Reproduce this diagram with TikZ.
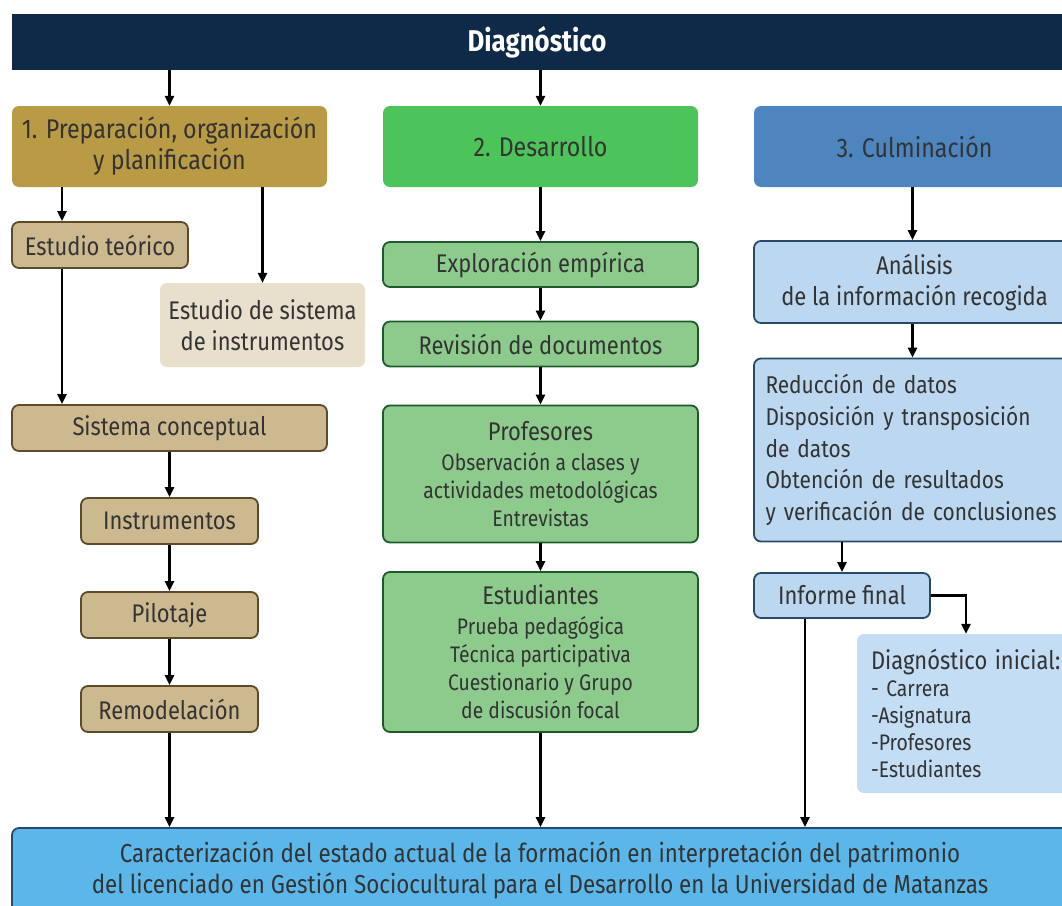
\documentclass[tikz,border=0pt]{standalone}
\usepackage{fontspec}
\setmainfont{Fira Sans}[FakeStretch=0.86]
\usepackage{tikz}
\usetikzlibrary{arrows.meta}

\definecolor{navy}{HTML}{0F2A48}
\definecolor{gold}{HTML}{B99A45}
\definecolor{tan}{HTML}{CDB98F}
\definecolor{tanline}{HTML}{5C4A28}
\definecolor{beige}{HTML}{E8DFCC}
\definecolor{green1}{HTML}{4CC45A}
\definecolor{green2}{HTML}{8DCB8D}
\definecolor{greenline}{HTML}{1E5B2B}
\definecolor{blue1}{HTML}{4D86BF}
\definecolor{blue2}{HTML}{BCD8F1}
\definecolor{blue3}{HTML}{C3DDF4}
\definecolor{blue4}{HTML}{5BB7E9}
\definecolor{blueline}{HTML}{2A4A6A}
\definecolor{txt}{HTML}{333333}

\newcommand{\subtxt}{\fontsize{22.5}{27}\selectfont}

\begin{document}
\begin{tikzpicture}[x=1pt,y=-1pt,
    box/.style={rounded corners=7pt,text=txt,align=center,inner sep=0pt,
        font=\fontsize{25.5}{31}\selectfont},
    phase/.style={box,font=\fontsize{27}{31}\selectfont},
    tanbox/.style={box,fill=tan,draw=tanline,line width=1.8pt},
    grbox/.style={box,fill=green2,draw=greenline,line width=1.8pt},
    blbox/.style={box,fill=blue2,draw=blueline,line width=1.8pt},
    arr/.style={-{Triangle[length=10pt,width=9pt]},line width=2.3pt}]
        % \draw[help lines,step=50] (0,0) grid (1062,905);
        \clip (0,0) rectangle (1062,905);

        % top bar
        \node[fill=navy,minimum width=1050,minimum height=56,text=white,
              font=\fontsize{30}{32}\selectfont\bfseries] (diag) at (537,42) {Diagnóstico};

        % phases
        \node[phase,fill=gold,minimum width=315,minimum height=81] (prep) at (169.5,146.5)
            {1. Preparación, organización\\ y planificación};
        \node[phase,fill=green1,minimum width=315,minimum height=81] (des) at (540.5,146.5)
            {2. Desarrollo};
        \node[phase,fill=blue1,minimum width=321,minimum height=81] (cul) at (914.5,146.5)
            {3. Culminación};

        % column 1
        \node[tanbox,minimum width=176,minimum height=46] (teo) at (100,245) {Estudio teórico};
        \node[box,fill=beige,minimum width=205,minimum height=84] (sis) at (262.5,325)
            {Estudio de sistema\\ de instrumentos};
        \node[tanbox,minimum width=315,minimum height=46] (con) at (169.5,428) {Sistema conceptual};
        \node[tanbox,minimum width=177,minimum height=46] (ins) at (169.5,521) {Instrumentos};
        \node[tanbox,minimum width=177,minimum height=46] (pil) at (169.5,615) {Pilotaje};
        \node[tanbox,minimum width=177,minimum height=46] (rem) at (169.5,709) {Remodelación};

        % column 2
        \node[grbox,minimum width=315,minimum height=45] (exp) at (540.5,264.5) {Exploración empírica};
        \node[grbox,minimum width=315,minimum height=45] (rev) at (540.5,344) {Revisión de documentos};
        \node[grbox,minimum width=315,minimum height=137,font=\fontsize{25.5}{28}\selectfont] (prof) at (540.5,474)
            {Profesores\\[2pt]\subtxt Observación a clases y\\
             \subtxt actividades metodológicas\\ \subtxt Entrevistas};
        \node[grbox,minimum width=315,minimum height=160,font=\fontsize{25.5}{28}\selectfont] (est) at (540.5,652)
            {Estudiantes\\[2pt]\subtxt Prueba pedagógica\\
             \subtxt Técnica participativa\\ \subtxt Cuestionario y Grupo\\ \subtxt de discusión focal};

        % column 3
        \node[blbox,minimum width=321,minimum height=82] (ana) at (914.5,282)
            {Análisis\\ de la información recogida};
        \node[blbox,minimum width=321,minimum height=183,align=left,text width=298,
              font=\fontsize{24.3}{31.7}\selectfont] (red) at (914.5,450)
            {Reducción de datos\\ Disposición y transposición\\ de datos\\ Obtención de resultados\\
             \mbox{y verificación de conclusiones}};
        \node[blbox,minimum width=176,minimum height=45] (inf) at (842,595.5) {Informe final};
        \node[box,fill=blue3,minimum width=218,minimum height=159,align=left,text width=190,
              font=\subtxt] (ini) at (966,713.5)
            {{\fontsize{25.5}{31}\selectfont Diagnóstico inicial:}\\ - Carrera\\ -Asignatura\\
             -Profesores\\ -Estudiantes};

        % result
        \node[box,fill=blue4,draw=blueline,line width=1.8pt,minimum width=1063,minimum height=92] (fin) at (543.5,874) {};
        \node[text=txt,align=center,font=\fontsize{26}{31}\selectfont] (fintxt) at (540,870)
            {Caracterización del estado actual de la formación en interpretación del patrimonio\\
             del licenciado en Gestión Sociocultural para el Desarrollo en la Universidad de Matanzas};

        % diagnostico to phases
        \draw[arr] (prep.north |- diag.south) -- (prep.north);
        \draw[arr] (des.north |- diag.south) -- (des.north);

        % preparation branch
        \draw[arr] ([xshift=-38]teo.north |- prep.south) -- ([xshift=-38]teo.north);
        \draw[arr] (sis.north |- prep.south) -- (sis.north);
        \draw[arr] ([xshift=-38]teo.south) -- ([xshift=-38]teo.south |- con.north);
        \draw[arr] (con) -- (ins);
        \draw[arr] (ins) -- (pil);
        \draw[arr] (pil) -- (rem);
        \draw[arr] (rem.south) -- (rem.south |- fin.north);

        % development branch
        \draw[arr] (des) -- (exp);
        \draw[arr] (exp) -- (rev);
        \draw[arr] (rev) -- (prof);
        \draw[arr] (prof) -- (est);
        \draw[arr] (est.south) -- (est.south |- fin.north);

        % culmination branch
        \draw[arr] ([xshift=-2]cul.south) -- ([xshift=-2]ana.north);
        \draw[arr] ([xshift=-2]ana.south) -- ([xshift=-2]red.north);
        \draw[arr] (inf.north |- red.south) -- (inf.north);
        \draw[arr] (inf.east) -| (ini.north);
        \draw[arr] ([xshift=-37]inf.south) -- ([xshift=-37]inf.south |- fin.north);

      \end{tikzpicture}
\end{document}
